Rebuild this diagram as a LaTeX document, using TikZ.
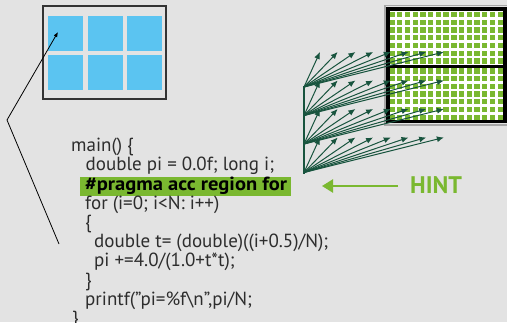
\documentclass[tikz,border=0pt]{standalone}
\usepackage{fontspec}
\setmainfont{PT Sans}
\usetikzlibrary{arrows.meta}
\definecolor{bggray}{RGB}{227,227,227}
\definecolor{tileblue}{RGB}{91,196,241}
\definecolor{nvgreen}{RGB}{122,184,48}
\definecolor{fangreen}{RGB}{24,84,62}
\definecolor{codegray}{RGB}{45,45,45}
\tikzset{
	codeline/.style={anchor=base west, inner sep=0pt, text=codegray, font=\fontsize{19}{19}\selectfont},
	fanarrow/.style={fangreen, line width=1pt, ->, >={Latex[length=7pt,width=6pt]}},
	hintarrow/.style={nvgreen, line width=2.3pt, -{Triangle[length=11pt,width=13pt]}}
}
\begin{document}
\begin{tikzpicture}[x=1pt, y=-1pt]
		\fill[bggray] (0,0) rectangle (507,322);
		\useasboundingbox (0,0) rectangle (507,322);
		
		% host memory
		\draw[black!80, line width=1.2pt] (43,6) rectangle (166,99);
		\foreach \i in {0,1,2}{
			\foreach \j in {0,1}{
				\fill[tileblue] (48+39.5*\i,16+39*\j) rectangle ++(35,35);
			}
		}
		
		% gpu cores
		\draw[black!35, line width=1.5pt] (385,5.5) rectangle (509,125);
		\fill[white] (388,9) rectangle (505,121.5);
		\foreach \i in {0,...,14}{
			\foreach \j in {0,...,6}{
				\fill[nvgreen] (389.3+7.74*\i,12+7.7*\j) rectangle ++(5.3,5.3);
				\fill[nvgreen] (389.3+7.74*\i,68.3+7.7*\j) rectangle ++(5.3,5.3);
			}
		}
		\draw[black, line width=3.3pt] (388,9) rectangle (505,121.5);
		\draw[black, line width=2.6pt] (388,66.3) -- (505,66.3);
		
		% threads
		\draw[fangreen, line width=1.2pt] (304,86) -- (304,174);
		\foreach \r in {0,...,3}{
			\coordinate (o\r) at (304,87+28.5*\r);
			\foreach \k in {0,...,7}{
				\coordinate (t\r\k) at (320+17.7*\k,52+28.5*\r);
				\draw[fanarrow] (o\r) -- (t\r\k);
			}
		}
		
		% code
		\fill[nvgreen] (80,177) rectangle (291,195.5);
		\node[codeline] (l1) at (71,151.7) {main() \{};
		\node[codeline] (l2) at (85.5,170.9) {double pi = 0.0f; long i;};
		\node[codeline, text=black, font=\fontsize{19}{19}\selectfont\bfseries\addfontfeatures{FakeStretch=1.08}] (l3) at (85,190.1) {\#pragma acc region for};
		\node[codeline] (l4) at (85,209.3) {for (i=0; i<N: i++)};
		\node[codeline] (l5) at (85,228.5) {\{};
		\node[codeline] (l6) at (94,247.7) {double t= (double)((i+0.5)/N);};
		\node[codeline] (l7) at (94,266.9) {pi +=4.0/(1.0+t*t);};
		\node[codeline] (l8) at (85,286.1) {\}};
		\node[codeline] (l9) at (85,305.3) {printf(”pi=\%f\textbackslash n”,pi/N;};
		\node[codeline] (l10) at (72,324.5) {\}};
		
		% code to memory
		\coordinate (tail) at (59,244);
		\coordinate (bend) at (7,120);
		\coordinate (tile) at (58,32);
		\draw[line width=0.8pt, ->, >={Latex[length=5pt,width=4pt]}] (tail) -- (bend) -- (tile);
		
		% hint
		\node[anchor=base west, inner sep=0pt, text=nvgreen, font=\fontsize{24}{24}\selectfont\bfseries] (hint) at (410,193) {HINT};
		\coordinate (hinttail) at (398,186);
		\coordinate (hinttip) at (322,186);
		\draw[hintarrow] (hinttail) -- (hinttip);
	\end{tikzpicture}
\end{document}
